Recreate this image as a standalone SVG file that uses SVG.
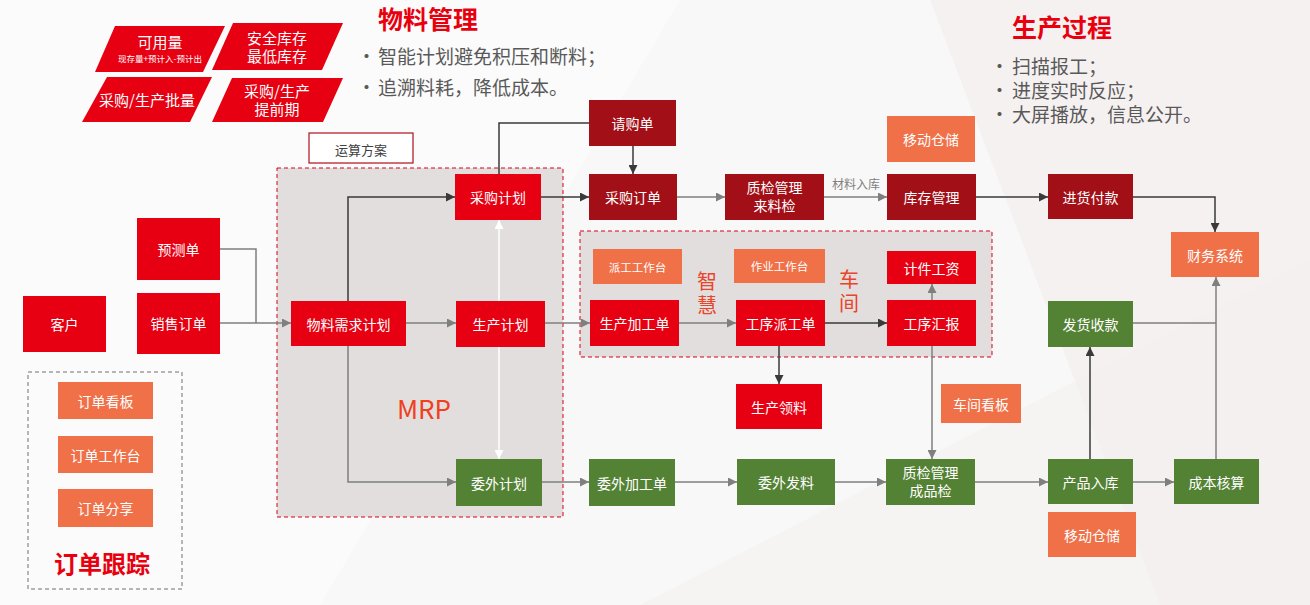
<svg xmlns="http://www.w3.org/2000/svg" width="1310" height="605" viewBox="0 0 1310 605">
<style>
text{font-family:"Noto Sans CJK SC","Microsoft YaHei","Noto Sans",sans-serif;}
.bx{font-size:14px;fill:#ffffff;text-anchor:middle;dominant-baseline:central;}
.sm{font-size:11.5px;fill:#ffffff;text-anchor:middle;dominant-baseline:central;}
.red{fill:#E60012;}
.dred{fill:#A30F17;}
.org{fill:#F07048;}
.grn{fill:#548235;}
.pg{fill:#E60012;}
.pt{font-size:15px;fill:#ffffff;text-anchor:middle;dominant-baseline:central;}
.title{font-size:25px;font-weight:bold;fill:#E8000F;}
.bul{font-size:19px;fill:#595959;}
.vt{font-size:20px;fill:#E8452A;writing-mode:vertical-rl;letter-spacing:4px;}
.region{fill:#E2DEDE;stroke:#D9001B;stroke-width:1;stroke-dasharray:4 3;}
.cg{fill:none;stroke:#7F7F7F;stroke-width:1.5;}
.cd{fill:none;stroke:#3A3A3A;stroke-width:1.5;}
.cw{fill:none;stroke:#FFFFFF;stroke-width:1.5;}
</style>
<defs>
<marker id="ag" viewBox="0 0 10 10" refX="10" refY="5" markerWidth="9" markerHeight="9" orient="auto" markerUnits="userSpaceOnUse"><path d="M0,0 L10,5 L0,10 z" fill="#7F7F7F"/></marker>
<marker id="ad" viewBox="0 0 10 10" refX="10" refY="5" markerWidth="9" markerHeight="9" orient="auto" markerUnits="userSpaceOnUse"><path d="M0,0 L10,5 L0,10 z" fill="#3A3A3A"/></marker>
<marker id="aw" viewBox="0 0 10 10" refX="10" refY="5" markerWidth="9" markerHeight="9" orient="auto-start-reverse" markerUnits="userSpaceOnUse"><path d="M0,0 L10,5 L0,10 z" fill="#FFFFFF"/></marker>
</defs>
<!-- background -->
<rect x="0" y="0" width="1310" height="605" fill="#F9F8F8"/>
<polygon points="0,0 680,0 320,605 0,605" fill="#FBFBFB"/>
<polygon points="930,0 1310,0 1310,605 1160,605" fill="#F6F1F1"/>
<polygon points="640,605 1310,260 1310,605" fill="#F4F0F0" opacity="0.6"/>

<!-- top-left parallelograms -->
<g id="p-keyong">
<polygon class="pg" points="115,26 225,26 203,72 95,72"/>
<text x="160" fill="#ffffff" text-anchor="middle"><tspan x="160" y="48" font-size="15">可用量</tspan><tspan x="160" y="62" font-size="8.5">现存量+预计入-预计出</tspan></text>
</g>
<g id="p-anquan">
<polygon class="pg" points="233,23 343,23 322,70 212,70"/>
<text font-size="15" fill="#ffffff" text-anchor="middle"><tspan x="277" y="44">安全库存</tspan><tspan x="277" y="62">最低库存</tspan></text>
</g>
<g id="p-piliang">
<polygon class="pg" points="107,77 212,77 190,122 82,122"/>
<text class="pt" x="147" y="99">采购/生产批量</text>
</g>
<g id="p-tiqian">
<polygon class="pg" points="232,78 343,78 323,122 212,122"/>
<text font-size="15" fill="#ffffff" text-anchor="middle"><tspan x="277" y="97">采购/生产</tspan><tspan x="277" y="115">提前期</tspan></text>
</g>

<!-- headings -->
<g id="material-mgmt">
<text class="title" x="378" y="29">物料管理</text>
<text class="bul" x="357" y="64">•</text>
<text class="bul" x="378" y="64">智能计划避免积压和断料；</text>
<text class="bul" x="357" y="95">•</text>
<text class="bul" x="378" y="95">追溯料耗，降低成本。</text>
</g>
<g id="production-process">
<text class="title" x="1012" y="37">生产过程</text>
<text class="bul" x="990" y="74">•</text>
<text class="bul" x="1012" y="74">扫描报工；</text>
<text class="bul" x="990" y="98">•</text>
<text class="bul" x="1012" y="98">进度实时反应；</text>
<text class="bul" x="990" y="122">•</text>
<text class="bul" x="1012" y="122">大屏播放，信息公开。</text>
</g>

<!-- regions -->
<g id="region-mrp">
<rect class="region" x="277" y="168" width="286" height="349"/>
<text x="424" y="407" font-size="26" fill="#F0401E" text-anchor="middle" dominant-baseline="central" font-family="'Noto Sans','Liberation Sans',sans-serif">MRP</text>
</g>
<g id="region-workshop">
<rect class="region" x="580" y="231" width="412" height="126"/>
<text class="vt" x="707" y="271">智慧</text>
<text class="vt" x="849" y="269">车间</text>
</g>
<g id="region-order">
<rect x="28" y="372" width="154" height="217" fill="none" stroke="#707070" stroke-width="1" stroke-dasharray="4 3"/>
<text x="102" y="562" font-size="24" font-weight="bold" fill="#E8000F" text-anchor="middle" dominant-baseline="central">订单跟踪</text>
</g>
<g id="plan-scheme">
<rect x="309" y="133" width="104" height="30" fill="#FFFFFF" stroke="#B0101A" stroke-width="1.2"/>
<text x="361" y="149" font-size="13" fill="#404040" text-anchor="middle" dominant-baseline="central">运算方案</text>
</g>

<!-- connectors -->
<g id="connectors">
<polyline class="cg" points="220,249 256,249 256,323"/>
<line class="cg" x1="220" y1="323" x2="291" y2="323" marker-end="url(#ag)"/>
<polyline class="cd" points="348,301 348,197 455,197" marker-end="url(#ad)"/>
<line class="cg" x1="406" y1="323" x2="456" y2="323" marker-end="url(#ag)"/>
<polyline class="cg" points="348,346 348,482 456,482" marker-end="url(#ag)"/>
<line class="cw" x1="499" y1="220" x2="499" y2="459" marker-start="url(#aw)" marker-end="url(#aw)"/>
<polyline class="cd" points="499,174 499,123 589,123"/>
<line class="cd" x1="633" y1="146" x2="633" y2="174" marker-end="url(#ad)"/>
<line class="cd" x1="541" y1="197" x2="589" y2="197" marker-end="url(#ad)"/>
<line class="cg" x1="677" y1="197" x2="725" y2="197" marker-end="url(#ag)"/>
<line class="cg" x1="824" y1="197" x2="887" y2="197" marker-end="url(#ag)"/>
<text x="856" y="183" font-size="12" fill="#7F7F7F" text-anchor="middle" dominant-baseline="central">材料入库</text>
<line class="cd" x1="976" y1="197" x2="1048" y2="197" marker-end="url(#ad)"/>
<polyline class="cd" points="1133,197 1215,197 1215,232" marker-end="url(#ad)"/>
<line class="cg" x1="545" y1="323" x2="590" y2="323" marker-end="url(#ag)"/>
<line class="cg" x1="679" y1="323" x2="736" y2="323" marker-end="url(#ag)"/>
<line class="cd" x1="825" y1="323" x2="887" y2="323" marker-end="url(#ad)"/>
<line class="cg" x1="932" y1="300" x2="932" y2="284" marker-end="url(#ag)"/>
<line class="cd" x1="779" y1="346" x2="779" y2="384" marker-end="url(#ad)"/>
<line class="cg" x1="932" y1="346" x2="932" y2="459" marker-end="url(#ag)"/>
<line class="cg" x1="542" y1="482" x2="589" y2="482" marker-end="url(#ag)"/>
<line class="cg" x1="675" y1="482" x2="737" y2="482" marker-end="url(#ag)"/>
<line class="cg" x1="835" y1="482" x2="886" y2="482" marker-end="url(#ag)"/>
<line class="cg" x1="975" y1="482" x2="1048" y2="482" marker-end="url(#ag)"/>
<line class="cd" x1="1090" y1="459" x2="1090" y2="347" marker-end="url(#ad)"/>
<line class="cg" x1="1133" y1="482" x2="1174" y2="482" marker-end="url(#ag)"/>
<line class="cg" x1="1216" y1="459" x2="1216" y2="277" marker-end="url(#ag)"/>
<line class="cg" x1="1133" y1="323" x2="1216" y2="323"/>
</g>

<!-- nodes -->
<g id="n-kehu"><rect class="red" x="23" y="296" width="83" height="56"/><text class="bx" x="64.5" y="324">客户</text></g>
<g id="n-yuce"><rect class="red" x="137" y="218" width="83" height="62"/><text class="bx" x="178.5" y="249">预测单</text></g>
<g id="n-xiaoshou"><rect class="red" x="137" y="293" width="83" height="61"/><text class="bx" x="178.5" y="323">销售订单</text></g>
<g id="n-dingdan-kanban"><rect class="org" x="58" y="382" width="95" height="37"/><text class="bx" x="105.5" y="400.5">订单看板</text></g>
<g id="n-dingdan-gzt"><rect class="org" x="58" y="436" width="95" height="37"/><text class="bx" x="105.5" y="454.5">订单工作台</text></g>
<g id="n-dingdan-fx"><rect class="org" x="58" y="489" width="95" height="38"/><text class="bx" x="105.5" y="508">订单分享</text></g>

<g id="n-mrp"><rect class="red" x="291" y="301" width="115" height="45"/><text class="bx" x="348.5" y="323.5">物料需求计划</text></g>
<g id="n-caigou-jh"><rect class="red" x="455" y="174" width="86" height="46"/><text class="bx" x="498" y="197">采购计划</text></g>
<g id="n-shengchan-jh"><rect class="red" x="456" y="301" width="89" height="46"/><text class="bx" x="500.5" y="324">生产计划</text></g>
<g id="n-weiwai-jh"><rect class="grn" x="456" y="459" width="86" height="47"/><text class="bx" x="499" y="482.5">委外计划</text></g>

<g id="n-qinggou"><rect class="dred" x="589" y="100" width="87" height="46"/><text class="bx" x="632.5" y="123">请购单</text></g>
<g id="n-caigou-dd"><rect class="dred" x="589" y="174" width="88" height="46"/><text class="bx" x="633" y="197">采购订单</text></g>
<g id="n-zhijian-ll"><rect class="dred" x="725" y="174" width="99" height="46"/><text font-size="14" fill="#ffffff" text-anchor="middle"><tspan x="774.5" y="193">质检管理</tspan><tspan x="774.5" y="211">来料检</tspan></text></g>
<g id="n-yidong1"><rect class="org" x="887" y="116" width="88" height="46"/><text class="bx" x="931" y="139">移动仓储</text></g>
<g id="n-kucun"><rect class="dred" x="887" y="174" width="89" height="46"/><text class="bx" x="931.5" y="197">库存管理</text></g>
<g id="n-jinhuo"><rect class="dred" x="1048" y="174" width="85" height="45"/><text class="bx" x="1090.5" y="196.5">进货付款</text></g>
<g id="n-caiwu"><rect class="org" x="1171" y="232" width="88" height="45"/><text class="bx" x="1215" y="254.5">财务系统</text></g>

<g id="n-paigong-gzt"><rect class="org" x="593" y="249" width="89" height="35"/><text class="sm" x="637.5" y="266.5">派工工作台</text></g>
<g id="n-zuoye-gzt"><rect class="org" x="734" y="249" width="91" height="34"/><text class="sm" x="779.5" y="266">作业工作台</text></g>
<g id="n-jijian"><rect class="red" x="887" y="251" width="89" height="33"/><text class="bx" x="931.5" y="267.5">计件工资</text></g>
<g id="n-jiagong"><rect class="red" x="590" y="300" width="89" height="46"/><text class="bx" x="634.5" y="323">生产加工单</text></g>
<g id="n-paigong"><rect class="red" x="736" y="300" width="89" height="46"/><text class="bx" x="780.5" y="323">工序派工单</text></g>
<g id="n-huibao"><rect class="red" x="887" y="300" width="89" height="46"/><text class="bx" x="931.5" y="323">工序汇报</text></g>
<g id="n-lingliao"><rect class="red" x="736" y="384" width="86" height="45"/><text class="bx" x="779" y="406.5">生产领料</text></g>
<g id="n-kanban"><rect class="org" x="941" y="384" width="80" height="39"/><text class="bx" x="981" y="403.5">车间看板</text></g>

<g id="n-weiwai-jg"><rect class="grn" x="589" y="459" width="86" height="47"/><text class="bx" x="632" y="482.5">委外加工单</text></g>
<g id="n-weiwai-fl"><rect class="grn" x="737" y="459" width="98" height="46"/><text class="bx" x="786" y="482">委外发料</text></g>
<g id="n-zhijian-cp"><rect class="grn" x="886" y="459" width="89" height="46"/><text font-size="14" fill="#ffffff" text-anchor="middle"><tspan x="930.5" y="478">质检管理</tspan><tspan x="930.5" y="496">成品检</tspan></text></g>
<g id="n-fahuo"><rect class="grn" x="1048" y="301" width="85" height="46"/><text class="bx" x="1090.5" y="324">发货收款</text></g>
<g id="n-ruku"><rect class="grn" x="1048" y="459" width="85" height="45"/><text class="bx" x="1090.5" y="481.5">产品入库</text></g>
<g id="n-chengben"><rect class="grn" x="1174" y="459" width="85" height="45"/><text class="bx" x="1216.5" y="481.5">成本核算</text></g>
<g id="n-yidong2"><rect class="org" x="1048" y="512" width="88" height="45"/><text class="bx" x="1092" y="534.5">移动仓储</text></g>
</svg>
